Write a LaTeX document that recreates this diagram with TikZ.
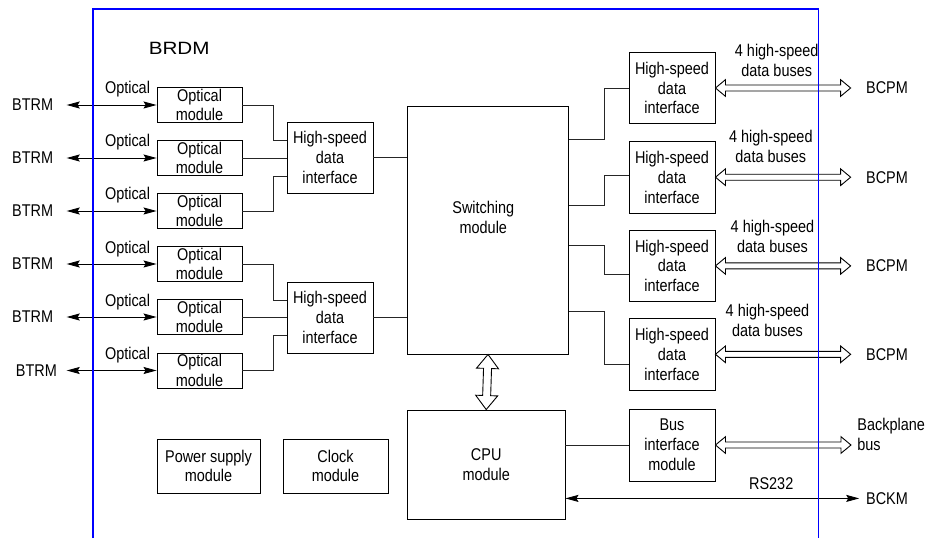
\documentclass[tikz,border=0pt]{standalone}
\usepackage{fontspec}
\setmainfont{Liberation Sans}[FakeStretch=0.85]
\newfontfamily\brdmfont{Liberation Sans}[FakeStretch=1.16]
\usetikzlibrary{arrows.meta,calc}
\newcommand\diagfont{\fontsize{17pt}{19.8pt}\selectfont}
\newcommand\hollowarrow[5]{%
  \coordinate (ha-a) at ($(#1)!#3!(#2)$);
  \coordinate (ha-b) at ($(#2)!#3!(#1)$);
  \draw[hollow] (#1) -- ($(ha-a)!#4!90:(#2)$) -- ($(ha-a)!#5!90:(#2)$)
    -- ($(ha-b)!#5!-90:(#1)$) -- ($(ha-b)!#4!-90:(#1)$) -- (#2)
    -- ($(ha-b)!#4!90:(#1)$) -- ($(ha-b)!#5!90:(#1)$)
    -- ($(ha-a)!#5!-90:(#2)$) -- ($(ha-a)!#4!-90:(#2)$) -- cycle;
}
\tikzset{
  box/.style={draw=black, line width=0.9pt, inner sep=0pt, align=center, font=\diagfont},
  lbl/.style={inner sep=0pt, font=\diagfont, align=center},
  conn/.style={draw=black!85, line width=0.9pt},
  dblarrow/.style={draw=black, line width=0.9pt,
    {Stealth[length=13pt,width=7pt,inset=2pt]}-{Stealth[length=13pt,width=7pt,inset=2pt]}},
  hollow/.style={draw=black, line width=0.9pt, fill=white, line join=miter},
  frame/.style={draw=blue, line width=1.3pt}
}
\begin{document}
\begin{tikzpicture}[x=1pt,y=-1pt]
\useasboundingbox[fill=white] (0,0) rectangle (928,538);

% title
\node[inner sep=0pt, font=\brdmfont\fontsize{17.8pt}{20pt}\selectfont, anchor=base] (brdm) at (179.2,54.3) {BRDM};

% optical modules
\node[box, minimum width=85pt, minimum height=35pt] (om1) at (199.5,105) {Optical\\module};
\node[box, minimum width=85pt, minimum height=35pt] (om2) at (199.5,158) {Optical\\module};
\node[box, minimum width=85pt, minimum height=35pt] (om3) at (199.5,211) {Optical\\module};
\node[box, minimum width=85pt, minimum height=35pt] (om4) at (199.5,264) {Optical\\module};
\node[box, minimum width=85pt, minimum height=35pt] (om5) at (199.5,317) {Optical\\module};
\node[box, minimum width=85pt, minimum height=35pt] (om6) at (199.5,370.5) {Optical\\module};

% BTRM labels
\node[lbl, anchor=east] (bt1) at (53.3,105) {BTRM};
\node[lbl, anchor=east] (bt2) at (53.3,158) {BTRM};
\node[lbl, anchor=east] (bt3) at (53.3,211) {BTRM};
\node[lbl, anchor=east] (bt4) at (53.3,264) {BTRM};
\node[lbl, anchor=east] (bt5) at (53.3,317) {BTRM};
\node[lbl, anchor=east] (bt6) at (57,370.5) {BTRM};

% Optical labels
\node[lbl, anchor=base] (ol1) at (127.5,93.2) {Optical};
\node[lbl, anchor=base] (ol2) at (127.5,146.2) {Optical};
\node[lbl, anchor=base] (ol3) at (127.5,199.2) {Optical};
\node[lbl, anchor=base] (ol4) at (127.5,253) {Optical};
\node[lbl, anchor=base] (ol5) at (127.5,306) {Optical};
\node[lbl, anchor=base] (ol6) at (127.5,359.5) {Optical};

% left high-speed data interfaces
\node[box, minimum width=86pt, minimum height=71pt] (hl1) at (330,157.5) {High-speed\\data\\interface};
\node[box, minimum width=86pt, minimum height=71pt] (hl2) at (330,317.5) {High-speed\\data\\interface};

% switching module
\node[box, minimum width=161pt, minimum height=248pt] (sw) at (488,230) {};
\node[lbl] (swl) at (483.3,217.2) {Switching\\module};

% CPU
\node[box, minimum width=157.6pt, minimum height=109.6pt] (cpu) at (486.2,464.8) {CPU\\module};

% power and clock
\node[box, minimum width=103pt, minimum height=54pt] (pwr) at (208.5,466) {Power supply\\module};
\node[box, minimum width=105pt, minimum height=54pt] (clk) at (335.5,466) {Clock\\module};

% right high-speed data interfaces
\node[box, minimum width=86pt, minimum height=71.5pt] (hr1) at (672,88) {High-speed\\data\\interface};
\node[box, minimum width=86pt, minimum height=71.5pt] (hr2) at (672,177.2) {High-speed\\data\\interface};
\node[box, minimum width=86pt, minimum height=71.5pt] (hr3) at (672,265.9) {High-speed\\data\\interface};
\node[box, minimum width=86pt, minimum height=71.5pt] (hr4) at (672,354.3) {High-speed\\data\\interface};
\node[box, minimum width=86pt, minimum height=72pt] (bus) at (672,445) {Bus\\interface\\module};

% right labels
\node[lbl] (bc1) at (887,88) {BCPM};
\node[lbl] (bc2) at (887,177.2) {BCPM};
\node[lbl] (bc3) at (887,265.9) {BCPM};
\node[lbl] (bc4) at (887,354.3) {BCPM};
\node[lbl, anchor=south west, align=left] (bp) at (857.2,450.5) {Backplane\\bus};
\node[lbl] (bckm) at (887,498.4) {BCKM};
\node[lbl, anchor=base] (rs) at (771.2,489) {RS232};

\node[lbl, anchor=south] (hb1) at (776.7,76.7) {4 high-speed\\data buses};
\node[lbl, anchor=south] (hb2) at (770.8,162.7) {4 high-speed\\data buses};
\node[lbl, anchor=south] (hb3) at (772.5,253) {4 high-speed\\data buses};
\node[lbl, anchor=south] (hb4) at (767.5,337) {4 high-speed\\data buses};

% BTRM arrows
\draw[dblarrow] ([xshift=13.4pt]bt1.east) -- (om1.west);
\draw[dblarrow] ([xshift=13.4pt]bt2.east) -- (om2.west);
\draw[dblarrow] ([xshift=13.4pt]bt3.east) -- (om3.west);
\draw[dblarrow] ([xshift=13.4pt]bt4.east) -- (om4.west);
\draw[dblarrow] ([xshift=13.4pt]bt5.east) -- (om5.west);
\draw[dblarrow] ([xshift=9.7pt]bt6.east) -- (om6.west);

% optical modules to left interfaces
\draw[conn] (om1.east) -- ++(31,0) |- ([yshift=17.5pt]hl1.west);
\draw[conn] (om2.east) -- (om2.east -| hl1.west);
\draw[conn] (om3.east) -- ++(31,0) |- ([yshift=-18.5pt]hl1.west);
\draw[conn] (om4.east) -- ++(31,0) |- ([yshift=17.5pt]hl2.west);
\draw[conn] (om5.east) -- (om5.east -| hl2.west);
\draw[conn] (om6.east) -- ++(31,0) |- ([yshift=-18.2pt]hl2.west);

% left interfaces to switch
\draw[conn] (hl1.east) -- (hl1.east -| sw.west);
\draw[conn] (hl2.east) -- (hl2.east -| sw.west);

% switch to right interfaces
\draw[conn] ([yshift=91pt]sw.east) -- ++(35,0) |- (hr1.west);
\draw[conn] ([yshift=24.6pt]sw.east) -- ++(35,0) |- ([yshift=2.1pt]hr2.west);
\draw[conn] ([yshift=-15.8pt]sw.east) -- ++(35,0) |- ([yshift=-8.5pt]hr3.west);
\draw[conn] ([yshift=-81.8pt]sw.east) -- ++(35,0) |- ([yshift=-9.7pt]hr4.west);

% CPU to bus interface
\draw[conn] (bus.west) -- (bus.west -| cpu.east);

% hollow arrows
\hollowarrow{hr1.east}{[xshift=-15.3pt]bc1.west}{10pt}{8.3pt}{3pt}
\hollowarrow{hr2.east}{[xshift=-15.3pt]bc2.west}{10pt}{8.3pt}{3pt}
\hollowarrow{hr3.east}{[xshift=-15.3pt]bc3.west}{10pt}{8.3pt}{3pt}
\hollowarrow{hr4.east}{[xshift=-15.3pt]bc4.west}{10pt}{8.3pt}{3pt}
\coordinate (bpend) at (851,445);
\hollowarrow{bus.east}{bpend}{10pt}{8.3pt}{3pt}
\hollowarrow{sw.south}{cpu.north}{14pt}{11pt}{4pt}

% RS232
\draw[dblarrow] (cpu.east |- bckm.west) -- ([xshift=-6.7pt]bckm.west);

% BRDM frame
\draw[frame] (93,538) -- (93,9) -- (818.5,9) -- (818.5,538);
\end{tikzpicture}
\end{document}
